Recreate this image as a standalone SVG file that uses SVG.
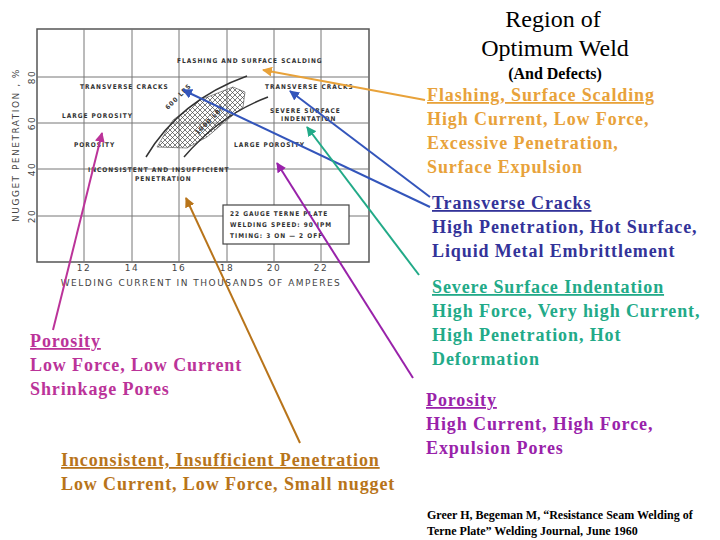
<svg xmlns="http://www.w3.org/2000/svg" width="720" height="540" viewBox="0 0 720 540">
<style>
.c{font-family:"DejaVu Sans Condensed","DejaVu Sans",sans-serif;font-size:6.5px;font-weight:bold;fill:#333;letter-spacing:1px}
.ax{font-family:"DejaVu Sans",sans-serif;font-size:9px;fill:#444;letter-spacing:1.5px}
.g{stroke:#777;stroke-width:1;fill:none}
.t{font-family:"Liberation Serif",serif;font-weight:bold;font-size:18px;letter-spacing:0.9px}
.u{text-decoration:underline}
.ln{stroke-width:2;fill:none}
</style>
<defs>
<pattern id="hx" width="5" height="5" patternUnits="userSpaceOnUse"><path d="M0 0L5 5M5 0L0 5" stroke="#444" stroke-width="0.7"/></pattern>
<marker id="ao" viewBox="0 0 10 10" refX="9" refY="5" markerWidth="5" markerHeight="5" orient="auto"><path d="M0 0L10 5L0 10z" fill="#e8a23a"/></marker>
<marker id="ab" viewBox="0 0 10 10" refX="9" refY="5" markerWidth="5" markerHeight="5" orient="auto"><path d="M0 0L10 5L0 10z" fill="#3355bb"/></marker>
<marker id="at" viewBox="0 0 10 10" refX="9" refY="5" markerWidth="5" markerHeight="5" orient="auto"><path d="M0 0L10 5L0 10z" fill="#22aa88"/></marker>
<marker id="am" viewBox="0 0 10 10" refX="9" refY="5" markerWidth="5" markerHeight="5" orient="auto"><path d="M0 0L10 5L0 10z" fill="#9922aa"/></marker>
<marker id="ap" viewBox="0 0 10 10" refX="9" refY="5" markerWidth="5" markerHeight="5" orient="auto"><path d="M0 0L10 5L0 10z" fill="#bb3399"/></marker>
<marker id="an" viewBox="0 0 10 10" refX="9" refY="5" markerWidth="5" markerHeight="5" orient="auto"><path d="M0 0L10 5L0 10z" fill="#b8741a"/></marker>
</defs>
<rect width="720" height="540" fill="#fff"/>
<g id="chart">
<rect x="37" y="29" width="332" height="233" fill="none" stroke="#555" stroke-width="1.5"/>
<path class="g" d="M37 77H369M37 123H369M37 169H369M37 216H369M84 29V262M132 29V262M179 29V262M227 29V262M274 29V262M321 29V262"/>
<rect x="223" y="205" width="126" height="39" fill="#fff" stroke="#444" stroke-width="1.2"/>
<path d="M157 147L173 120L200 100L233 87L245 92L243 107L227 120L207 137L187 148Z" fill="url(#hx)" stroke="#444" stroke-width="0.6"/>
<path d="M146 157Q180 100 247 76" stroke="#333" stroke-width="1.5" fill="none"/>
<path d="M184 157Q220 115 268 97" stroke="#333" stroke-width="1.5" fill="none"/>
<text class="c" x="168" y="110" transform="rotate(-45 168 110)">600 LBS</text>
<text class="c" x="198" y="135" transform="rotate(-45 198 135)">1000 LBS</text>
<text class="c" x="177" y="63">FLASHING AND SURFACE SCALDING</text>
<text class="c" x="80" y="89">TRANSVERSE CRACKS</text>
<text class="c" x="265" y="89">TRANSVERSE CRACKS</text>
<text class="c" x="62" y="118">LARGE POROSITY</text>
<text class="c" x="270" y="113">SEVERE SURFACE</text>
<text class="c" x="281" y="121">INDENTATION</text>
<text class="c" x="74" y="147">POROSITY</text>
<text class="c" x="234" y="147">LARGE POROSITY</text>
<text class="c" x="88" y="172">INCONSISTENT AND INSUFFICIENT</text>
<text class="c" x="135" y="181">PENETRATION</text>
<text class="c" x="230" y="216">22 GAUGE TERNE PLATE</text>
<text class="c" x="230" y="227">WELDING SPEED: 90 IPM</text>
<text class="c" x="230" y="238">TIMING: 3 ON — 2 OFF</text>
<g class="ax" text-anchor="middle">
<text x="84" y="271">12</text><text x="132" y="271">14</text><text x="179" y="271">16</text><text x="227" y="271">18</text><text x="274" y="271">20</text><text x="321" y="271">22</text>
<text x="201" y="286">WELDING CURRENT IN THOUSANDS OF AMPERES</text>
<text transform="translate(35 77) rotate(-90)">80</text>
<text transform="translate(35 123) rotate(-90)">60</text>
<text transform="translate(35 169) rotate(-90)">40</text>
<text transform="translate(35 216) rotate(-90)">20</text>
<text transform="translate(19 145) rotate(-90)">NUGGET PENETRATION , %</text>
</g>
</g>
<g id="connectors">
<line class="ln" x1="425" y1="100" x2="263" y2="70" stroke="#e8a23a" marker-end="url(#ao)"/>
<line class="ln" x1="430" y1="197" x2="290" y2="91" stroke="#3355bb" marker-end="url(#ab)"/>
<line class="ln" x1="430" y1="207" x2="183" y2="90" stroke="#3355bb" marker-end="url(#ab)"/>
<line class="ln" x1="419" y1="275" x2="307" y2="127" stroke="#22aa88" marker-end="url(#at)"/>
<line class="ln" x1="413" y1="378" x2="277" y2="163" stroke="#9922aa" marker-end="url(#am)"/>
<line class="ln" x1="300" y1="443" x2="186" y2="198" stroke="#b8741a" marker-end="url(#an)"/>
<line class="ln" x1="53" y1="330" x2="102" y2="133" stroke="#bb3399" marker-end="url(#ap)"/>
</g>
<g id="title" font-family="Liberation Serif,serif" text-anchor="middle">
<text x="553" y="27" font-size="24">Region of</text>
<text x="555" y="56" font-size="24">Optimum Weld</text>
<text x="555" y="79" font-size="16" font-weight="bold">(And Defects)</text>
</g>
<g id="flashing" class="t" fill="#e8a23a">
<text x="427" y="101" class="u">Flashing, Surface Scalding</text>
<text x="427" y="125">High Current, Low Force,</text>
<text x="427" y="149">Excessive Penetration,</text>
<text x="427" y="173">Surface Expulsion</text>
</g>
<g id="transverse" class="t" fill="#333399">
<text x="432" y="209" class="u">Transverse Cracks</text>
<text x="432" y="233">High Penetration, Hot Surface,</text>
<text x="432" y="257">Liquid Metal Embrittlement</text>
</g>
<g id="severe" class="t" fill="#22aa88">
<text x="432" y="293" class="u">Severe Surface Indentation</text>
<text x="432" y="317">High Force, Very high Current,</text>
<text x="432" y="341">High Penetration, Hot</text>
<text x="432" y="365">Deformation</text>
</g>
<g id="porosity-high" class="t" fill="#9922aa">
<text x="426" y="406" class="u">Porosity</text>
<text x="426" y="430">High Current, High Force,</text>
<text x="426" y="454">Expulsion Pores</text>
</g>
<g id="porosity-low" class="t" fill="#bb3399">
<text x="30" y="347" class="u">Porosity</text>
<text x="30" y="371">Low Force, Low Current</text>
<text x="30" y="395">Shrinkage Pores</text>
</g>
<g id="inconsistent" class="t" fill="#b8741a">
<text x="61" y="466" class="u">Inconsistent, Insufficient Penetration</text>
<text x="61" y="490">Low Current, Low Force, Small nugget</text>
</g>
<g id="ref" font-family="Liberation Serif,serif" font-size="12" font-weight="bold">
<text x="427" y="519">Greer H, Begeman M, “Resistance Seam Welding of</text>
<text x="427" y="535">Terne Plate” Welding Journal, June 1960</text>
</g>
</svg>
